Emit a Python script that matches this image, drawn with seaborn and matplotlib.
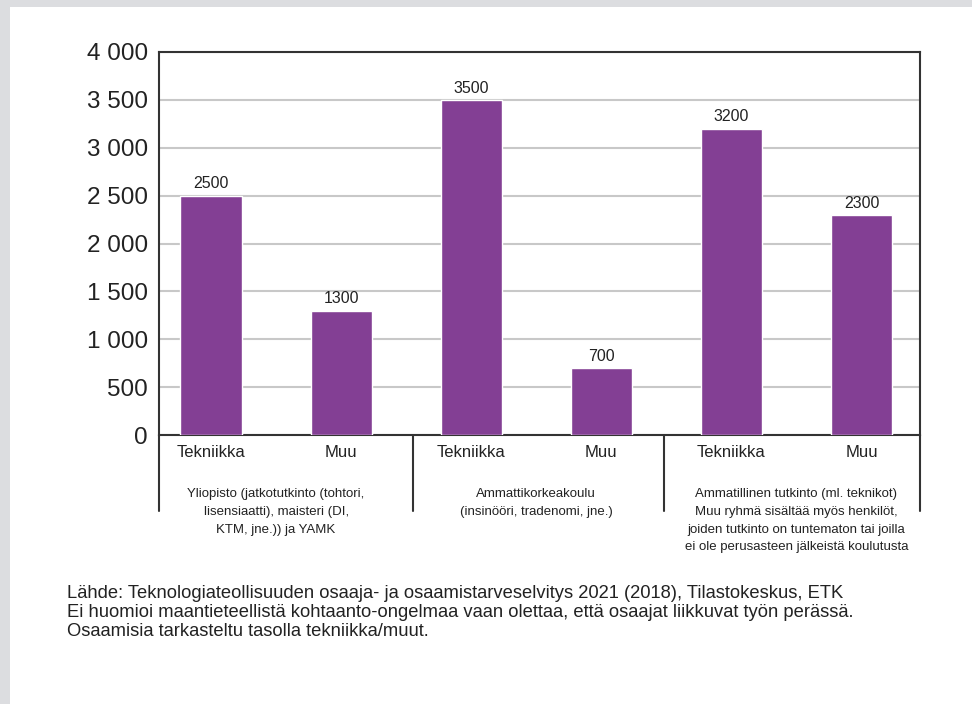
import matplotlib
matplotlib.use('Agg')
import matplotlib.pyplot as plt
import matplotlib.patches as mpatches
from matplotlib.ticker import FuncFormatter, MultipleLocator
import pandas as pd
import seaborn as sns

# data
GROUPS = [
    'Yliopisto (jatkotutkinto (tohtori,\nlisensiaatti), maisteri (DI,\nKTM, jne.)) ja YAMK',
    'Ammattikorkeakoulu\n(insinööri, tradenomi, jne.)',
    'Ammatillinen tutkinto (ml. teknikot)\nMuu ryhmä sisältää myös henkilöt,\n'
    'joiden tutkinto on tuntematon tai joilla\nei ole perusasteen jälkeistä koulutusta',
]
CATEGORIES = ['Tekniikka', 'Muu']
VALUES = [2500, 1300, 3500, 700, 3200, 2300]
FOOTER = [
    'Lähde: Teknologiateollisuuden osaaja- ja osaamistarveselvitys 2021 (2018), Tilastokeskus, ETK',
    'Ei huomioi maantieteellistä kohtaanto-ongelmaa vaan olettaa, että osaajat liikkuvat työn perässä.',
    'Osaamisia tarkasteltu tasolla tekniikka/muut.',
]

PURPLE = '#833f94'
DARK = '#333333'
GRID = '#c8c8c8'
BG = '#dcdde0'

sns.set_theme(style='white')
plt.rcParams['font.family'] = ['Liberation Sans', 'DejaVu Sans']

rows = []
for gi in range(len(GROUPS)):
    for ci, cat in enumerate(CATEGORIES):
        rows.append({'key': f'{gi}-{cat}', 'category': cat,
                     'value': VALUES[gi * len(CATEGORIES) + ci]})
df = pd.DataFrame(rows)

fig = plt.figure(figsize=(9.72, 7.04), dpi=100)
fig.patch.set_facecolor(BG)
fig.patches.append(mpatches.Rectangle((10 / 972, 0), 1, 1 - 7 / 704,
                                      transform=fig.transFigure,
                                      facecolor='white', edgecolor='none', zorder=-5))

ax = fig.add_axes([159 / 972, 1 - 435 / 704, 761 / 972, 383 / 704])
ax.set_facecolor('white')

sns.barplot(data=df, x='key', y='value', color=PURPLE, saturation=1,
            width=0.47, ax=ax, zorder=3)
ax.bar_label(ax.containers[0], fmt='%d', padding=3, fontsize=11.5, color='#222222')

ax.set_xlim(-0.4, 5.45)
ax.set_ylim(0, 4000)
ax.yaxis.set_major_locator(MultipleLocator(500))
ax.yaxis.set_major_formatter(FuncFormatter(lambda v, p: f'{int(v):,}'.replace(',', ' ')))
ax.grid(axis='y', color=GRID, linewidth=1.5, zorder=0)
ax.set_axisbelow(True)

ax.set_xticks(range(len(df)))
ax.set_xticklabels(df['category'])
ax.tick_params(axis='x', length=0, pad=7, labelsize=12, labelcolor='#222222')
ax.tick_params(axis='y', length=0, pad=8, labelsize=17.5, labelcolor='#222222')
ax.set_xlabel('')
ax.set_ylabel('')

for s in ax.spines.values():
    s.set_visible(True)
    s.set_color(DARK)
    s.set_linewidth(1.5)

# group separators below the axis
trans = ax.get_xaxis_transform()
for x in [-0.4, 1.55, 3.48, 5.45]:
    ax.plot([x, x], [0, -0.198], transform=trans, clip_on=False,
            color=DARK, linewidth=1.5)

# group labels
for gi, label in enumerate(GROUPS):
    ax.annotate(label, xy=(gi * 2 + 0.5, 0), xycoords=trans,
                xytext=(0, -38.5), textcoords='offset points',
                ha='center', va='top', fontsize=9.5, linespacing=1.62,
                color='#222222')

for i, line in enumerate(FOOTER):
    fig.text(67 / 972, 1 - (593 + i * 19.5) / 704, line, ha='left', va='center',
             fontsize=13.2, color='#222222')

fig.savefig('out.png', dpi=100, facecolor=fig.get_facecolor())
